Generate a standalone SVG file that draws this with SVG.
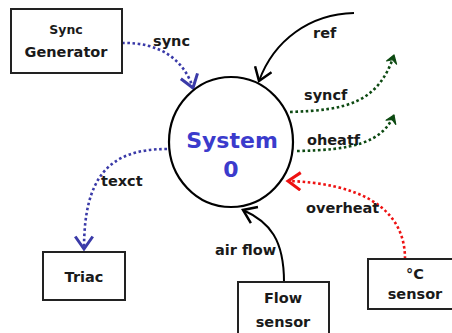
<svg xmlns="http://www.w3.org/2000/svg" width="452" height="333" viewBox="0 0 452 333">
  <style>
    .box { fill: #ffffff; stroke: #222222; stroke-width: 2; }
    .txt { font-family: "DejaVu Sans", Verdana, sans-serif; font-weight: bold; fill: #1a1a1a; text-anchor: middle; }
    .lbl { font-family: "DejaVu Sans", Verdana, sans-serif; font-weight: bold; fill: #1a1a1a; font-size: 14.5px; }
    .solid { fill: none; stroke: #000000; stroke-width: 2; }
    .dot { fill: none; stroke-width: 2.6; stroke-dasharray: 2.6 2.6; }
    .blue { stroke: #3a3aa8; }
    .green { stroke: #0d4a12; }
    .red { stroke: #ee1111; }
  </style>
  <defs>
    <marker id="ahBlack" markerUnits="userSpaceOnUse" markerWidth="20" markerHeight="20" refX="12" refY="8" orient="auto" viewBox="0 0 14 16">
      <path d="M2,1 L12,8 L2,15" fill="none" stroke="#000000" stroke-width="2"/>
    </marker>
    <marker id="ahBlue" markerUnits="userSpaceOnUse" markerWidth="20" markerHeight="20" refX="12" refY="8" orient="auto" viewBox="0 0 14 16">
      <path d="M2,1 L12,8 L2,15" fill="none" stroke="#3a3aa8" stroke-width="2.4"/>
    </marker>
    <marker id="ahRed" markerUnits="userSpaceOnUse" markerWidth="20" markerHeight="20" refX="12" refY="8" orient="auto" viewBox="0 0 14 16">
      <path d="M2,1 L12,8 L2,15" fill="none" stroke="#ee1111" stroke-width="2.4"/>
    </marker>
    <marker id="ahGreen" markerUnits="userSpaceOnUse" markerWidth="14" markerHeight="14" refX="12" refY="8" orient="auto" viewBox="0 0 14 16">
      <path d="M3,2 L12,8 L3,14 L6.5,8 Z" fill="#0d4a12" stroke="#0d4a12" stroke-width="1.4" stroke-linejoin="round"/>
    </marker>
  </defs>

  <g id="connectors">
    <!-- sync: generator -> system -->
    <path class="dot blue" d="M122,43 C160,42 184,60 193,88" marker-end="url(#ahBlue)"/>
    <!-- ref: external -> system -->
    <path class="solid" d="M354,13 C310,14 274,40 259,81" marker-end="url(#ahBlack)"/>
    <!-- syncf: system -> out -->
    <path class="dot green" d="M290,112 C345,110 378,104 394,55" marker-end="url(#ahGreen)"/>
    <!-- oheatf: system -> out -->
    <path class="dot green" d="M297,151 C352,150 382,143 394,115" marker-end="url(#ahGreen)"/>
    <!-- texct: system -> triac -->
    <path class="dot blue" d="M167,149 C108,149 84,178 84,249" marker-end="url(#ahBlue)"/>
    <!-- air flow: flow sensor -> system -->
    <path class="solid" d="M284,282 C284,240 270,222 243,210" marker-end="url(#ahBlack)"/>
    <!-- overheat: temperature sensor -> system -->
    <path class="dot red" d="M405,259 C405,205 355,183 288,181" marker-end="url(#ahRed)"/>

    <text class="lbl" x="153" y="46">sync</text>
    <text class="lbl" x="313" y="38">ref</text>
    <text class="lbl" x="304" y="100">syncf</text>
    <text class="lbl" x="307" y="145">oheatf</text>
    <text class="lbl" x="101" y="186">texct</text>
    <text class="lbl" x="215" y="255">air flow</text>
    <text class="lbl" x="306" y="213">overheat</text>
  </g>

  <g id="system0">
    <ellipse cx="231" cy="142" rx="62" ry="65" fill="#ffffff" stroke="#000000" stroke-width="2.2"/>
    <text x="232" y="148" font-family="'DejaVu Sans', Verdana, sans-serif" font-weight="bold" font-size="22" fill="#3b3bcc" text-anchor="middle">System</text>
    <text x="231" y="177" font-family="'DejaVu Sans', Verdana, sans-serif" font-weight="bold" font-size="22" fill="#3b3bcc" text-anchor="middle">0</text>
  </g>

  <g id="sync-generator">
    <rect class="box" x="11" y="9" width="111" height="64"/>
    <text class="txt" x="66" y="34" font-size="12.5">Sync</text>
    <text class="txt" x="66" y="57" font-size="14.5">Generator</text>
  </g>

  <g id="triac">
    <rect class="box" x="43" y="252" width="82" height="48"/>
    <text class="txt" x="84" y="282" font-size="14.5">Triac</text>
  </g>

  <g id="flow-sensor">
    <rect class="box" x="238" y="282" width="91" height="60"/>
    <text class="txt" x="283" y="303" font-size="14.5">Flow</text>
    <text class="txt" x="283" y="327" font-size="14.5">sensor</text>
  </g>

  <g id="temp-sensor">
    <rect class="box" x="368" y="259" width="96" height="50"/>
    <text class="txt" x="415" y="279" font-size="14.5">°C</text>
    <text class="txt" x="415" y="299" font-size="14.5">sensor</text>
  </g>
</svg>
